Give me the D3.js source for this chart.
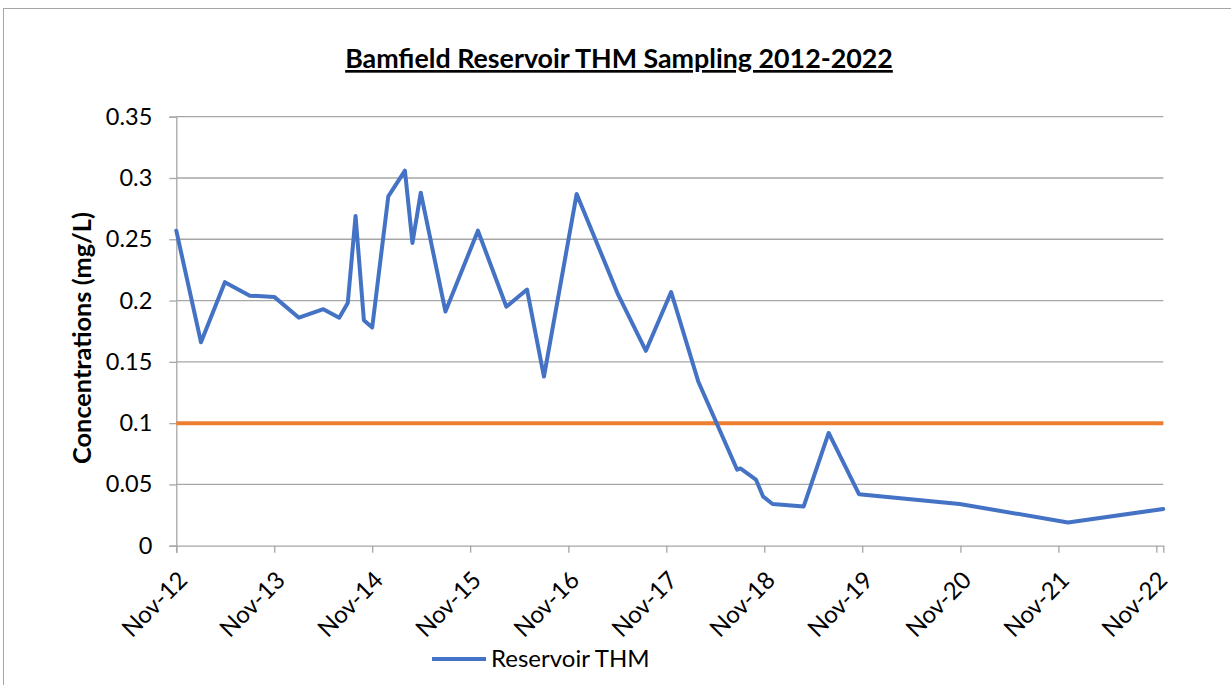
<!DOCTYPE html>
<html>
<head>
<meta charset="utf-8">
<script src="https://cdn.jsdelivr.net/npm/d3@7"></script>
<style>
  html, body { margin: 0; padding: 0; background: #fff; }
  svg { display: block; }
  text { font-family: Lato, "Open Sans", sans-serif; fill: #000; }
</style>
</head>
<body>
<svg id="chart" width="1231" height="685"></svg>
<script>
// ---- data ----
const sampleDates = [
  "2012-11-14","2013-02-14","2013-05-14","2013-08-15","2013-11-14","2014-02-14",
  "2014-05-16","2014-07-14","2014-08-15","2014-09-13","2014-10-14","2014-11-14",
  "2015-01-13","2015-03-16","2015-04-13","2015-05-14","2015-08-14","2015-12-13",
  "2016-03-28","2016-06-13","2016-08-15","2016-12-15","2017-05-18","2017-08-30",
  "2017-12-02","2018-03-13","2018-08-05","2018-08-17","2018-10-14","2018-11-10",
  "2018-12-15","2019-04-10","2019-07-12","2019-11-02","2020-11-11","2021-12-20",
  "2022-12-10"
];
const reservoirTHM = [
  0.257, 0.166, 0.215, 0.204, 0.203, 0.186,
  0.193, 0.186, 0.198, 0.269, 0.184, 0.178,
  0.285, 0.306, 0.247, 0.288, 0.191, 0.257,
  0.195, 0.209, 0.138, 0.287, 0.205, 0.159,
  0.207, 0.134, 0.062, 0.063, 0.054, 0.040,
  0.034, 0.032, 0.092, 0.042, 0.034, 0.019,
  0.030
];
const limitDates = ["2012-11-14", "2022-12-10"];
const limitValues = [0.1, 0.1];
const xTickDates = [
  "2012-11-14","2013-11-14","2014-11-14","2015-11-14","2016-11-14","2017-11-14",
  "2018-11-14","2019-11-14","2020-11-14","2021-11-14","2022-11-14"
];
const xTickLabels = ["Nov-12","Nov-13","Nov-14","Nov-15","Nov-16","Nov-17","Nov-18","Nov-19","Nov-20","Nov-21","Nov-22"];
const yTicks = [0, 0.05, 0.1, 0.15, 0.2, 0.25, 0.3, 0.35];
const yTickLabels = ["0","0.05","0.1","0.15","0.2","0.25","0.3","0.35"];
const titleText = "Bamfield Reservoir THM Sampling 2012-2022";
const yAxisTitle = "Concentrations (mg/L)";
const seriesName = "Reservoir THM";

// ---- layout ----
const parse = d3.utcParse("%Y-%m-%d");
const plot = { left: 176.3, right: 1163.3, top: 116.7, bottom: 545.7 };
const svg = d3.select("#chart");

// outer chart border
svg.append("rect")
  .attr("x", 3.5).attr("y", 8.5).attr("width", 1240).attr("height", 700)
  .attr("fill", "none").attr("stroke", "#a6a6a6").attr("stroke-width", 1);

const x = d3.scaleUtc()
  .domain([parse(limitDates[0]), parse(limitDates[1])])
  .range([plot.left, plot.right]);
const y = d3.scaleLinear().domain([0, 0.35]).range([plot.bottom, plot.top]);

// gridlines
svg.append("g")
  .selectAll("line").data(yTicks.filter(d => d > 0)).join("line")
  .attr("x1", plot.left).attr("x2", plot.right)
  .attr("y1", d => y(d)).attr("y2", d => y(d))
  .attr("stroke", "#a6a6a6").attr("stroke-width", 1.3);

// y axis
const yAxis = svg.append("g")
  .attr("transform", `translate(${plot.left},0)`)
  .call(d3.axisLeft(y).tickValues(yTicks)
    .tickFormat((d, i) => yTickLabels[i]).tickSize(7).tickPadding(17));
yAxis.select(".domain").attr("stroke", "#a6a6a6").attr("stroke-width", 1.3);
yAxis.selectAll(".tick line").attr("stroke", "#a6a6a6").attr("stroke-width", 1.3);
yAxis.selectAll(".tick text").style("font-size", "23.5px").attr("fill", "#000")
  .attr("font-family", "Lato");

// x axis
const xAxis = svg.append("g")
  .attr("transform", `translate(0,${plot.bottom})`)
  .call(d3.axisBottom(x).tickValues(xTickDates.map(parse))
    .tickFormat((d, i) => xTickLabels[i]).tickSize(7));
xAxis.select(".domain").attr("stroke", "#a6a6a6").attr("stroke-width", 1.3);
xAxis.selectAll(".tick line").attr("stroke", "#a6a6a6").attr("stroke-width", 1.3);
xAxis.selectAll(".tick text")
  .style("font-size", "24px").attr("fill", "#000").attr("font-family", "Lato")
  .attr("text-anchor", "end")
  .attr("y", 0).attr("dy", "0.35em")
  .attr("transform", "translate(6,30) rotate(-45)");

// limit line (orange)
const limitData = limitDates.map((d, i) => ({ date: parse(d), value: limitValues[i] }));
svg.append("path")
  .datum(limitData)
  .attr("fill", "none").attr("stroke", "#ED7D31").attr("stroke-width", 4)
  .attr("d", d3.line().x(d => x(d.date)).y(d => y(d.value)));

// series
const series = sampleDates.map((d, i) => ({ date: parse(d), value: reservoirTHM[i] }));
svg.append("path")
  .datum(series)
  .attr("fill", "none").attr("stroke", "#4472C4").attr("stroke-width", 4)
  .attr("stroke-linejoin", "round").attr("stroke-linecap", "round")
  .attr("d", d3.line().x(d => x(d.date)).y(d => y(d.value)));

// title
svg.append("text")
  .attr("x", 619).attr("y", 68)
  .attr("text-anchor", "middle")
  .style("font-size", "26.8px").style("font-weight", "bold")
  .style("text-decoration", "underline")
  .text(titleText);

// y axis title
svg.append("text")
  .attr("transform", "translate(91,338) rotate(-90)")
  .attr("text-anchor", "middle")
  .style("font-size", "25.3px").style("font-weight", "bold")
  .text(yAxisTitle);

// legend
svg.append("line")
  .attr("x1", 432).attr("x2", 486).attr("y1", 659).attr("y2", 659)
  .attr("stroke", "#4472C4").attr("stroke-width", 4);
svg.append("text")
  .attr("x", 491).attr("y", 667)
  .style("font-size", "24px")
  .text(seriesName);
</script>
</body>
</html>
